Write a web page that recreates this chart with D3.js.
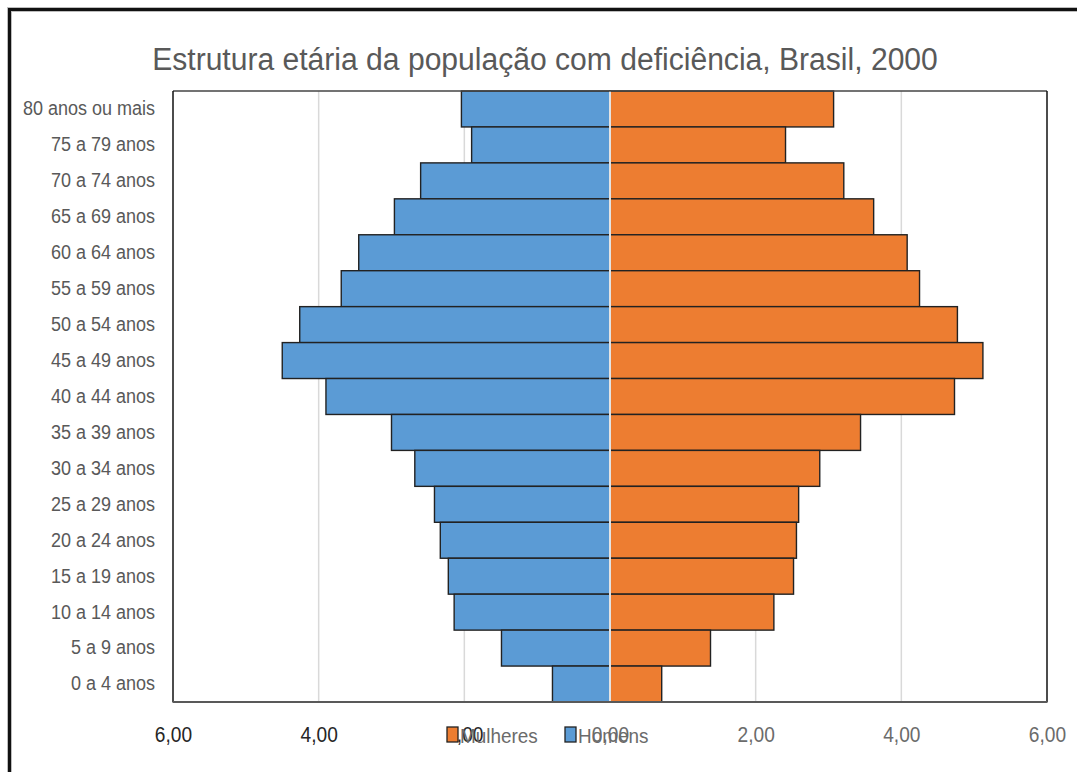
<!DOCTYPE html>
<meta charset="utf-8">
<style>
  body { margin: 0; background: #fff; }
</style>

<!-- Load d3.js from CDN-->
<script src="https://d3js.org/d3.v7.min.js"></script>

<div id="my_dataviz"></div>

<script>
// age groups, top of the pyramid first
const ageGroups = ["80 anos ou mais", "75 a 79 anos", "70 a 74 anos", "65 a 69 anos",
  "60 a 64 anos", "55 a 59 anos", "50 a 54 anos", "45 a 49 anos", "40 a 44 anos",
  "35 a 39 anos", "30 a 34 anos", "25 a 29 anos", "20 a 24 anos", "15 a 19 anos",
  "10 a 14 anos", "5 a 9 anos", "0 a 4 anos"];

// percent of the population with disability
const homens = [2.04, 1.90, 2.60, 2.96, 3.45, 3.69, 4.26, 4.50, 3.90,
  3.00, 2.68, 2.41, 2.33, 2.22, 2.14, 1.49, 0.79];
const mulheres = [3.07, 2.41, 3.21, 3.62, 4.08, 4.25, 4.77, 5.12, 4.73,
  3.44, 2.88, 2.59, 2.56, 2.52, 2.25, 1.38, 0.71];

const xTicks = [-6, -4, -2, 0, 2, 4, 6];
const seriesNames = ["Mulheres", "Homens"];

const colors = {Homens: "#5b9bd5", Mulheres: "#ed7d31"};
const fontFamily = "'Liberation Sans', Arial, sans-serif";

// page and plot box
const W = 1077, H = 772;
const plot = {left: 173, right: 1047, top: 91, bottom: 702};

// the original uses a narrow office font: squeeze text horizontally
function squeeze(sel, k) {
  sel.each(function() {
    const w = this.getComputedTextLength();
    d3.select(this)
      .attr("textLength", w * k)
      .attr("lengthAdjust", "spacingAndGlyphs");
  });
}

const svg = d3.select("#my_dataviz")
  .append("svg")
  .attr("width", W)
  .attr("height", H)
  .style("font-family", fontFamily);

svg.append("rect").attr("width", W).attr("height", H).attr("fill", "#fff");

// outer frame (only top and left edges are visible in the shot)
svg.append("path")
  .attr("d", "M9.5," + H + "V9.5H" + W)
  .attr("fill", "none")
  .attr("stroke", "#bdbdbd")
  .attr("stroke-width", 5);
svg.append("path")
  .attr("d", "M9.5," + H + "V9.5H" + W)
  .attr("fill", "none")
  .attr("stroke", "#111")
  .attr("stroke-width", 3);

// scales
const x = d3.scaleLinear()
  .domain([-6, 6])
  .range([plot.left, plot.right]);

const y = d3.scaleBand()
  .domain(ageGroups)
  .range([plot.top, plot.bottom])
  .padding(0);

const locale = d3.formatLocale({decimal: ",", thousands: ".", grouping: [3], currency: ["R$", ""]});
const fmt = locale.format(".2f");

// gridlines
svg.append("g")
  .selectAll("line")
  .data(xTicks.filter(d => d !== -6 && d !== 6))
  .join("line")
  .attr("x1", d => x(d)).attr("x2", d => x(d))
  .attr("y1", plot.top).attr("y2", plot.bottom)
  .attr("stroke", "#d9d9d9")
  .attr("stroke-width", 1.5);

// bars: men to the left, women to the right
const bars = svg.append("g");
bars.selectAll(".homens")
  .data(ageGroups)
  .join("rect")
  .attr("class", "homens")
  .attr("x", (d, i) => x(-homens[i]))
  .attr("y", d => y(d))
  .attr("width", (d, i) => x(0) - x(-homens[i]))
  .attr("height", y.bandwidth())
  .attr("fill", colors.Homens)
  .attr("stroke", "#222")
  .attr("stroke-width", 1.4);

bars.selectAll(".mulheres")
  .data(ageGroups)
  .join("rect")
  .attr("class", "mulheres")
  .attr("x", x(0))
  .attr("y", d => y(d))
  .attr("width", (d, i) => x(mulheres[i]) - x(0))
  .attr("height", y.bandwidth())
  .attr("fill", colors.Mulheres)
  .attr("stroke", "#222")
  .attr("stroke-width", 1.4);

// zero line sits on top of the bars
svg.append("line")
  .attr("x1", x(0)).attr("x2", x(0))
  .attr("y1", plot.top).attr("y2", plot.bottom)
  .attr("stroke", "#e3e3e3")
  .attr("stroke-width", 2);

// plot box edges
svg.append("line")
  .attr("x1", plot.left).attr("x2", plot.right)
  .attr("y1", plot.top).attr("y2", plot.top)
  .attr("stroke", "#444").attr("stroke-width", 1.3);
svg.append("line")
  .attr("x1", plot.left).attr("x2", plot.left)
  .attr("y1", plot.top).attr("y2", plot.bottom)
  .attr("stroke", "#111").attr("stroke-width", 1.5);
svg.append("line")
  .attr("x1", plot.right).attr("x2", plot.right)
  .attr("y1", plot.top).attr("y2", plot.bottom)
  .attr("stroke", "#111").attr("stroke-width", 1.5);
svg.append("line")
  .attr("x1", plot.left - 0.5).attr("x2", plot.right + 0.5)
  .attr("y1", plot.bottom).attr("y2", plot.bottom)
  .attr("stroke", "#595959").attr("stroke-width", 2);

// category axis
const yAxis = svg.append("g")
  .attr("transform", "translate(" + plot.left + ",0)")
  .call(d3.axisLeft(y).tickSize(0).tickPadding(18));
yAxis.select(".domain").remove();
yAxis.selectAll("text")
  .style("font-family", fontFamily)
  .style("font-size", "20px")
  .attr("fill", "#595959")
  .call(squeeze, 0.9);

// value axis, absolute values with comma decimals
const xAxis = svg.append("g")
  .attr("transform", "translate(0," + plot.bottom + ")")
  .call(d3.axisBottom(x).tickValues(xTicks).tickSize(0).tickFormat(d => fmt(Math.abs(d))));
xAxis.select(".domain").remove();
xAxis.selectAll("text")
  .attr("y", 40)
  .attr("dy", 0)
  .style("font-family", fontFamily)
  .style("font-size", "22px")
  .attr("fill", d => d < 0 ? "#262626" : "#6b6b6b")
  .call(squeeze, 0.87);

// title
svg.append("text")
  .attr("x", 545)
  .attr("y", 70)
  .attr("text-anchor", "middle")
  .style("font-size", "31px")
  .attr("fill", "#595959")
  .text("Estrutura etária da população com deficiência, Brasil, 2000")
  .call(squeeze, 0.97);

// legend, drawn over the axis labels like the original
const legend = svg.append("g").attr("transform", "translate(447,727)");
const legendX = {Mulheres: 0, Homens: 118};
seriesNames.forEach(name => {
  const g = legend.append("g").attr("transform", "translate(" + legendX[name] + ",0)");
  g.append("rect")
    .attr("width", 11).attr("height", 15)
    .attr("fill", colors[name])
    .attr("stroke", "#222").attr("stroke-width", 1.3);
  g.append("text")
    .attr("x", 13).attr("y", 15.5)
    .style("font-size", "21px")
    .attr("fill", "#6b6b6b")
    .text(name)
    .call(squeeze, 0.9);
});
</script>
